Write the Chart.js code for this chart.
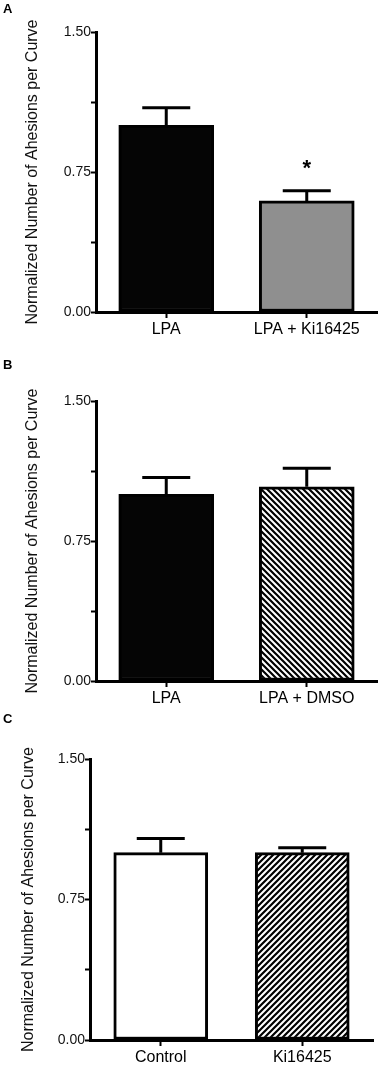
<!DOCTYPE html>
<html>
<head>
<meta charset="utf-8">
<script src="https://cdn.jsdelivr.net/npm/chart.js@4.4.1/dist/chart.umd.min.js"></script>
<style>
html, body { margin: 0; padding: 0; background: #fff; }
#wrap { position: relative; width: 380px; height: 1065px; }
canvas { position: absolute; left: 0; }
</style>
</head>
<body>
<div id="wrap">
  <canvas id="panelA" width="380" height="348" style="top:0px"></canvas>
  <canvas id="panelB" width="380" height="360" style="top:348px"></canvas>
  <canvas id="panelC" width="380" height="357" style="top:708px"></canvas>
</div>
<script>
// podaci za svaki panel
const labelsA = ['LPA', 'LPA + Ki16425'];
const meansA = [1.00, 0.595];
const semA = [0.094, 0.055];
const starsA = ['', '*'];

const labelsB = ['LPA', 'LPA + DMSO'];
const meansB = [1.00, 1.04];
const semB = [0.09, 0.10];

const labelsC = ['Control', 'Ki16425'];
const meansC = [1.00, 1.00];
const semC = [0.076, 0.026];

const yTickLabels = ['0.00', '0.75', '1.50'];
const yTitle = 'Normalized Number of Ahesions per Curve';

Chart.defaults.font.family = "'Liberation Sans', Arial, sans-serif";
Chart.defaults.color = '#111';

// uzorak sa kosim linijama
function srafura(smjer) {
    const c = document.createElement('canvas');
    c.width = 6; c.height = 6;
    const g = c.getContext('2d');
    g.fillStyle = '#fff';
    g.fillRect(0, 0, 6, 6);
    g.strokeStyle = '#000';
    g.lineWidth = 2.2;
    g.beginPath();
    for (let k = -1; k <= 2; k++) {
        if (smjer === '\\') {
            g.moveTo(-1, k * 6 - 1); g.lineTo(7, k * 6 + 7);
        } else {
            g.moveTo(-1, k * 6 + 1); g.lineTo(7, k * 6 - 7);
        }
    }
    g.stroke();
    return g.createPattern(c, 'repeat');
}

function nacrtaj(id, slovo, slovoY, labels, means, sem, stars, boje, pad, yW, xH, debljina) {
    const greske = {
        id: 'greske',
        afterDatasetsDraw(chart) {
            const ctx = chart.ctx;
            const y = chart.scales.y;
            const meta = chart.getDatasetMeta(0);
            ctx.save();
            ctx.strokeStyle = '#000';
            ctx.lineWidth = 3;
            meta.data.forEach((bar, i) => {
                const top = y.getPixelForValue(means[i] + sem[i]);
                ctx.beginPath();
                ctx.moveTo(bar.x, bar.y);
                ctx.lineTo(bar.x, top);
                ctx.moveTo(bar.x - 24, top);
                ctx.lineTo(bar.x + 24, top);
                ctx.stroke();
                if (stars && stars[i]) {
                    ctx.fillStyle = '#000';
                    ctx.font = "bold 22px 'Liberation Sans', Arial";
                    ctx.textAlign = 'center';
                    ctx.textBaseline = 'alphabetic';
                    ctx.fillText(stars[i], bar.x, top - 16);
                }
            });
            // oznaka panela
            ctx.fillStyle = '#000';
            ctx.font = "bold 13px 'Liberation Sans', Arial";
            ctx.textAlign = 'left';
            ctx.textBaseline = 'alphabetic';
            ctx.fillText(slovo, 3, slovoY);
            ctx.restore();
        }
    };

    new Chart(document.getElementById(id), {
        type: 'bar',
        data: {
            labels: labels,
            datasets: [{
                data: means,
                backgroundColor: boje,
                borderColor: '#000',
                borderWidth: 3,
                borderSkipped: false,
                barThickness: debljina
            }]
        },
        options: {
            responsive: false,
            animation: false,
            devicePixelRatio: 1,
            layout: { padding: pad },
            plugins: { legend: { display: false }, tooltip: { enabled: false } },
            scales: {
                x: {
                    z: 1,
                    grid: { display: true, offset: false, drawOnChartArea: false, drawTicks: true, tickLength: 6, tickWidth: 2, tickColor: '#000' },
                    border: { display: true, color: '#000', width: 3 },
                    ticks: { color: '#000', font: { size: 16 }, padding: 2 },
                    afterFit(s) { s.height = xH; }
                },
                y: {
                    min: 0,
                    max: 1.5,
                    z: 1,
                    grid: { display: true, drawOnChartArea: false, drawTicks: true, tickLength: 5, tickWidth: 2, tickColor: '#000' },
                    border: { display: true, color: '#000', width: 3 },
                    ticks: {
                        stepSize: 0.375,
                        autoSkip: false,
                        padding: 0,
                        color: '#111',
                        font: { size: 14 },
                        callback: v => yTickLabels.find(t => parseFloat(t) === v) || ''
                    },
                    title: { display: true, text: yTitle, font: { size: 16 }, color: '#111', padding: { top: 4, bottom: 4 } },
                    afterFit(s) { s.width = yW; }
                }
            }
        },
        plugins: [greske]
    });
}

nacrtaj('panelA', 'A', 13, labelsA, meansA, semA, starsA, ['#050505', '#8f8f8f'],
    { left: 19, top: 32, right: 3, bottom: 0 }, 77, 36, 95);
nacrtaj('panelB', 'B', 21, labelsB, meansB, semB, null, ['#050505', srafura('\\')],
    { left: 19, top: 53, right: 3, bottom: 0 }, 77, 27, 95);
nacrtaj('panelC', 'C', 15, labelsC, meansC, semC, null, ['#ffffff', srafura('/')],
    { left: 15, top: 51, right: 7, bottom: 0 }, 75, 25, 94);
</script>
</body>
</html>
